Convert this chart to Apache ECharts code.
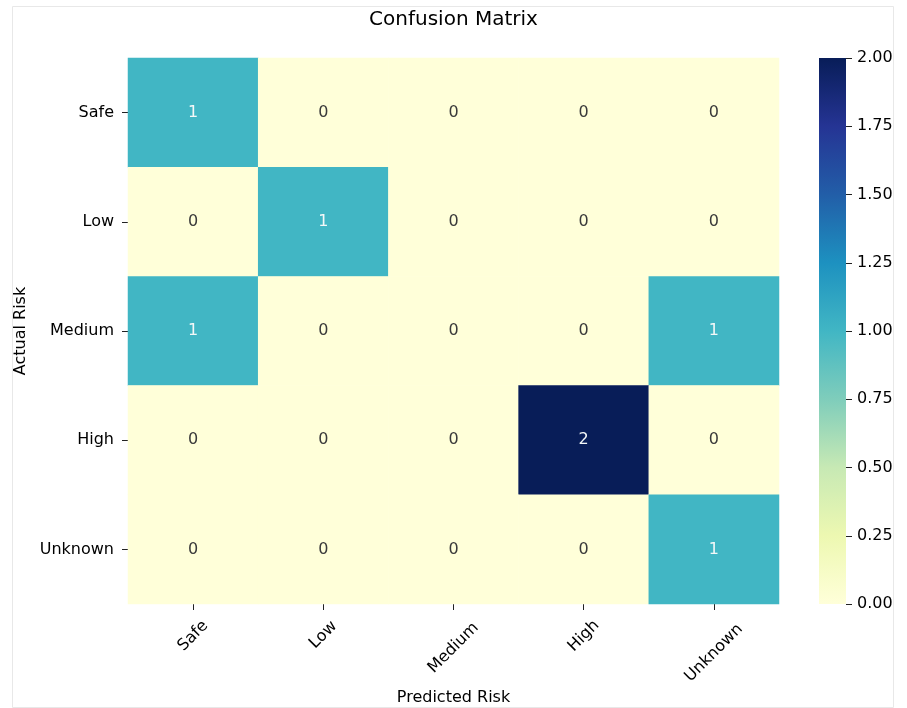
<!DOCTYPE html>
<html>
<head>
<meta charset="utf-8">
<script src="https://cdn.jsdelivr.net/npm/echarts@6/dist/echarts.min.js"></script>
<style>html,body{margin:0;padding:0;background:#fff}#chart{width:907px;height:708px}</style>
</head>
<body>
<div id="chart"></div>
<script>
// ---- data ----
const predictedLabels = ['Safe', 'Low', 'Medium', 'High', 'Unknown'];
const actualLabels = ['Safe', 'Low', 'Medium', 'High', 'Unknown'];
const rowSafe    = [1, 0, 0, 0, 0];
const rowLow     = [0, 1, 0, 0, 0];
const rowMedium  = [1, 0, 0, 0, 1];
const rowHigh    = [0, 0, 0, 2, 0];
const rowUnknown = [0, 0, 0, 0, 1];
const colorbarMin = 0;
const colorbarMax = 2;
const colorbarStep = 0.25;

// ---- build ----
const rows = [rowSafe, rowLow, rowMedium, rowHigh, rowUnknown];
const ylgnbu = ['#ffffd9', '#edf8b1', '#c7e9b4', '#7fcdbb', '#41b6c4', '#1d91c0', '#225ea8', '#253494', '#081d58'];
const FONT = 'DejaVu Sans';
const heatData = [];
rows.forEach((row, yi) => {
  row.forEach((v, xi) => {
    heatData.push({
      value: [xi, yi, v],
      label: { color: v >= 1 ? '#f4f8f8' : '#3a3a3a' }
    });
  });
});

const labelMargins = [32, 31, 44, 32, 49];
const xAxes = predictedLabels.map((_, i) => ({
  type: 'category',
  gridIndex: 0,
  position: 'bottom',
  data: predictedLabels,
  axisLine: { show: false },
  axisTick: { show: i === 0, alignWithLabel: true, length: 6, lineStyle: { color: '#222' } },
  axisLabel: {
    interval: 0, rotate: 45, align: 'center', verticalAlign: 'middle',
    margin: labelMargins[i], fontSize: 16, fontFamily: FONT, color: '#000',
    formatter: (v, idx) => (idx === i ? v : '')
  },
  splitLine: { show: false },
  name: i === 0 ? 'Predicted Risk' : '',
  nameLocation: 'middle',
  nameGap: 86,
  nameTextStyle: { fontSize: 16, fontFamily: FONT, color: '#000' }
}));
xAxes.push({ type: 'category', gridIndex: 1, data: ['cb'], show: false });

const cbStops = ylgnbu.map((c, i) => ({ offset: i / (ylgnbu.length - 1), color: c }));

const option = {
  backgroundColor: '#fff',
  animation: false,
  title: {
    text: 'Confusion Matrix',
    left: 'center',
    top: 5,
    textStyle: { fontSize: 20, fontWeight: 'normal', color: '#000', fontFamily: FONT }
  },
  graphic: [{
    type: 'rect', shape: { x: 12.5, y: 6.5, width: 881, height: 701 },
    style: { fill: 'none', stroke: '#e8e8e8', lineWidth: 1 }, silent: true, z: -10
  }],
  grid: [
    { left: 128, top: 58, width: 651, height: 546, containLabel: false, outerBoundsMode: 'none' },
    { left: 819, top: 58, width: 27, height: 546, containLabel: false, outerBoundsMode: 'none' }
  ],
  xAxis: xAxes,
  yAxis: [
    {
      type: 'category', gridIndex: 0, data: actualLabels, inverse: true,
      axisLine: { show: false },
      axisTick: { show: true, alignWithLabel: true, length: 6, lineStyle: { color: '#222' } },
      axisLabel: { interval: 0, margin: 14, fontSize: 16, fontFamily: FONT, color: '#000' },
      splitLine: { show: false },
      name: 'Actual Risk', nameLocation: 'middle', nameGap: 98,
      nameTextStyle: { fontSize: 16, fontFamily: FONT, color: '#000' }
    },
    {
      type: 'value', gridIndex: 1, position: 'right',
      min: colorbarMin, max: colorbarMax, interval: colorbarStep,
      axisLine: { show: false },
      axisTick: { show: true, length: 6, lineStyle: { color: '#222' } },
      axisLabel: { margin: 11, fontSize: 16, fontFamily: FONT, color: '#000', formatter: v => v.toFixed(2) },
      splitLine: { show: false }
    }
  ],
  visualMap: {
    type: 'continuous', show: false, min: colorbarMin, max: colorbarMax,
    seriesIndex: 0, inRange: { color: ylgnbu }
  },
  series: [
    {
      type: 'heatmap', xAxisIndex: 0, yAxisIndex: 0, data: heatData,
      label: { show: true, fontSize: 16, fontFamily: FONT, formatter: p => String(p.value[2]) },
      itemStyle: { borderWidth: 0 },
      emphasis: { disabled: true }
    },
    {
      type: 'bar', xAxisIndex: 5, yAxisIndex: 1, data: [colorbarMax], barWidth: '100%', silent: true,
      itemStyle: { color: new echarts.graphic.LinearGradient(0, 1, 0, 0, cbStops) }
    }
  ]
};

const chart = echarts.init(document.getElementById('chart'), null, { renderer: 'canvas' });
chart.setOption(option);
</script>
</body>
</html>
